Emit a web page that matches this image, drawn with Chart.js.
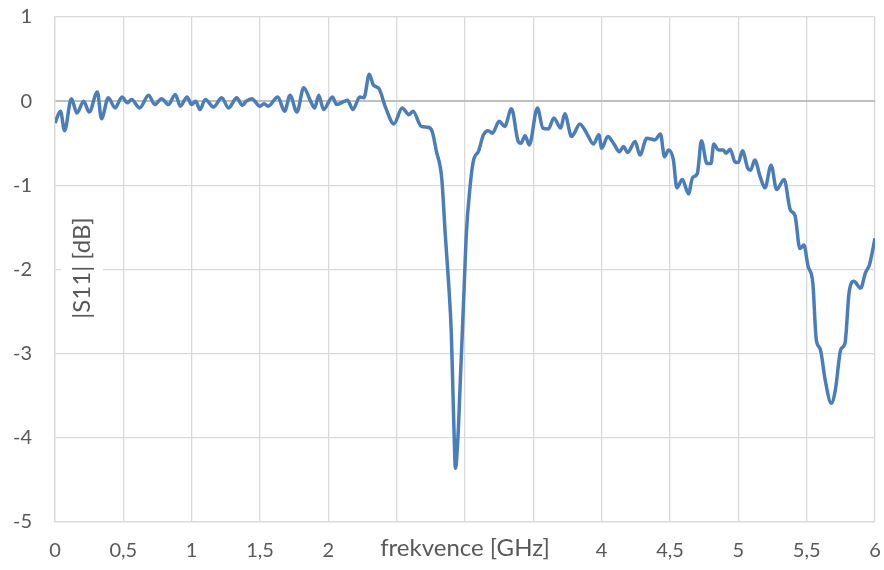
<!DOCTYPE html>
<html>
<head>
<meta charset="utf-8">
<script src="https://cdn.jsdelivr.net/npm/chart.js@4"></script>
<style>
  html, body { margin: 0; padding: 0; background: #fff; }
  #wrap { width: 884px; height: 570px; position: relative; }
</style>
</head>
<body>
<div id="wrap"><canvas id="chart"></canvas></div>
<script>
// frekvence [GHz]
const freq = [
  0.00, 0.04, 0.07, 0.12, 0.16, 0.21, 0.25, 0.31, 0.34, 0.39,
  0.44, 0.49, 0.53, 0.56, 0.62, 0.685, 0.73, 0.78, 0.83, 0.88,
  0.917, 0.966, 1.00, 1.03, 1.06, 1.10, 1.16, 1.22, 1.27, 1.33,
  1.37, 1.40, 1.44, 1.50, 1.53, 1.56, 1.63, 1.68, 1.72, 1.77,
  1.82, 1.87, 1.90, 1.93, 1.965, 2.03, 2.06, 2.12, 2.14, 2.18,
  2.23, 2.26, 2.30, 2.33, 2.37, 2.42, 2.48, 2.54, 2.59, 2.62,
  2.68, 2.73, 2.76, 2.79, 2.83, 2.855, 2.88, 2.90, 2.91, 2.92,
  2.93, 2.95, 2.965, 2.98, 2.995, 3.01, 3.035, 3.06, 3.10, 3.135,
  3.17, 3.20, 3.25, 3.29, 3.34, 3.39, 3.41, 3.44, 3.47, 3.53,
  3.57, 3.61, 3.65, 3.70, 3.73, 3.78, 3.80, 3.84, 3.89, 3.94,
  3.98, 4.00, 4.045, 4.09, 4.13, 4.16, 4.19, 4.245, 4.28, 4.33,
  4.39, 4.43, 4.46, 4.49, 4.525, 4.55, 4.59, 4.635, 4.665, 4.70,
  4.73, 4.77, 4.80, 4.82, 4.855, 4.89, 4.91, 4.94, 4.975, 5.00,
  5.03, 5.07, 5.09, 5.12, 5.16, 5.195, 5.24, 5.28, 5.335, 5.38,
  5.415, 5.45, 5.48, 5.51, 5.545, 5.57, 5.60, 5.635, 5.68, 5.71,
  5.75, 5.78, 5.81, 5.845, 5.895, 5.93, 5.96, 6.00
];

// |S11| [dB]
const s11 = [
  -0.26, -0.12, -0.35, 0.03, -0.14, 0.00, -0.13, 0.11, -0.21, 0.04,
  -0.08, 0.05, -0.02, 0.02, -0.08, 0.07, -0.04, 0.03, -0.04, 0.08,
  -0.06, 0.05, -0.04, 0.00, -0.10, 0.02, -0.07, 0.04, -0.08, 0.04,
  -0.05, 0.00, 0.03, -0.06, -0.03, -0.06, 0.05, -0.12, 0.07, -0.13,
  0.16, 0.00, -0.08, 0.07, -0.10, 0.05, -0.04, 0.00, 0.01, -0.10,
  0.05, 0.04, 0.32, 0.19, 0.15, -0.08, -0.27, -0.08, -0.16, -0.12,
  -0.30, -0.31, -0.36, -0.59, -0.92, -1.57, -2.16, -2.76, -3.35, -3.94,
  -4.36, -3.94, -3.35, -2.76, -2.16, -1.57, -1.05, -0.72, -0.59, -0.40,
  -0.35, -0.38, -0.24, -0.30, -0.09, -0.48, -0.50, -0.41, -0.52, -0.08,
  -0.32, -0.33, -0.20, -0.32, -0.15, -0.42, -0.38, -0.27, -0.38, -0.51,
  -0.40, -0.56, -0.42, -0.51, -0.60, -0.54, -0.61, -0.48, -0.64, -0.44,
  -0.46, -0.39, -0.66, -0.58, -0.70, -1.03, -0.93, -1.10, -0.91, -0.86,
  -0.47, -0.74, -0.74, -0.51, -0.58, -0.58, -0.62, -0.57, -0.72, -0.73,
  -0.59, -0.80, -0.82, -0.70, -0.90, -1.03, -0.76, -1.05, -0.93, -1.29,
  -1.36, -1.75, -1.71, -1.96, -2.16, -2.83, -2.95, -3.31, -3.59, -3.43,
  -2.95, -2.88, -2.28, -2.14, -2.22, -2.04, -1.94, -1.63
];

// popisky osy x, ktere v originale zakryva nazev osy
const hiddenXTicks = [2.5, 3, 3.5];

const FONT = 'Lato, "Open Sans", sans-serif';
const TEXT = '#595959';
const GRID = '#d9d9d9';

// nazev osy y uvnitr grafu (s bilym podkladem)
const yTitlePlugin = {
  id: 'yTitle',
  afterDraw(chart) {
    const ctx = chart.ctx;
    const cx = 82, cy = 268;
    ctx.save();
    ctx.fillStyle = '#fff';
    ctx.fillRect(cx - 21, cy - 62, 42, 124);
    ctx.translate(cx, cy);
    ctx.rotate(-Math.PI / 2);
    ctx.font = '24px ' + FONT;
    ctx.fillStyle = TEXT;
    ctx.textAlign = 'center';
    ctx.textBaseline = 'middle';
    ctx.fillText('|S11| [dB]', 0, 0);
    ctx.restore();
  }
};

const ctx = document.getElementById('chart').getContext('2d');
new Chart(ctx, {
  type: 'line',
  data: {
    datasets: [{
      data: freq.map((f, i) => ({ x: f, y: s11[i] })),
      borderColor: '#4a7ebb',
      borderWidth: 3.5,
      pointRadius: 0,
      fill: false,
      cubicInterpolationMode: 'monotone'
    }]
  },
  options: {
    responsive: true,
    maintainAspectRatio: false,
    animation: false,
    layout: { padding: { top: 17, right: 9, left: 0, bottom: 0 } },
    plugins: {
      legend: { display: false },
      tooltip: { enabled: false }
    },
    scales: {
      x: {
        type: 'linear',
        min: 0,
        max: 6,
        ticks: {
          stepSize: 0.5,
          padding: 17,
          maxRotation: 0,
          autoSkip: false,
          color: TEXT,
          font: { family: FONT, size: 20 },
          callback: v => hiddenXTicks.includes(v) ? '' : String(v).replace('.', ',')
        },
        grid: { color: GRID, lineWidth: 1.3, drawTicks: false },
        border: { color: GRID, width: 1.3 },
        title: {
          display: true,
          text: 'frekvence [GHz]',
          color: TEXT,
          font: { family: FONT, size: 24 },
          padding: { top: 0, bottom: 7 }
        },
        afterFit: s => { s.height = 48; s.paddingLeft = 0; s.paddingRight = 0; }
      },
      y: {
        min: -5,
        max: 1,
        ticks: {
          stepSize: 1,
          padding: 23,
          color: TEXT,
          font: { family: FONT, size: 20 },
          callback: v => String(v)
        },
        grid: {
          color: c => c.tick && c.tick.value === 0 ? '#bfbfbf' : GRID,
          lineWidth: c => c.tick && c.tick.value === 0 ? 2 : 1.3,
          drawTicks: false
        },
        border: { color: GRID, width: 1.3 },
        afterFit: s => { s.width = 55; s.paddingTop = 0; s.paddingBottom = 0; }
      }
    }
  },
  plugins: [yTitlePlugin]
});
</script>
</body>
</html>
